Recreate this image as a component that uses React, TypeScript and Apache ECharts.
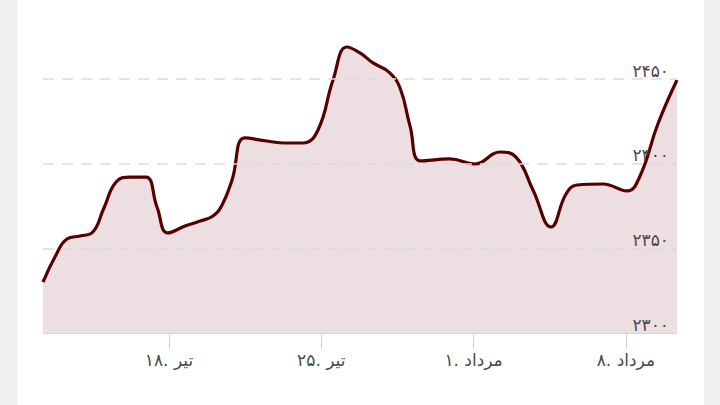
import React, { useEffect, useRef } from "react";
import * as echarts from "echarts";

// day index: Tir d -> d, Mordad d -> 31 + d
const days: number[] = [12.21, 12.76, 13.31, 13.91, 14.46, 15.01, 15.57, 16.25, 16.94, 17.45, 17.95, 18.74, 19.43, 20.02, 20.44, 20.9, 21.49, 22.5, 23.33, 24.16, 24.85, 25.54, 26.18, 26.78, 27.38, 28.11, 28.62, 29.08, 29.58, 30.91, 32.06, 33.21, 33.95, 34.73, 35.56, 36.25, 36.75, 37.95, 39.05, 39.65, 40.47, 41.35];
const prices: number[] = [2330.1, 2344.9, 2355.5, 2357.3, 2359.1, 2373.8, 2389.2, 2392.1, 2392.1, 2374.4, 2359.1, 2363.2, 2366.1, 2369.1, 2375.6, 2390.4, 2415.2, 2413.4, 2412.2, 2412.2, 2419.9, 2449.4, 2468.9, 2465.4, 2459.5, 2454.1, 2444.7, 2422.2, 2401.6, 2402.8, 2399.8, 2406.9, 2403.9, 2384.5, 2362.6, 2382.1, 2387.4, 2388.0, 2383.9, 2392.7, 2423.4, 2449.4];
const tickDays: number[] = [18, 25, 32, 39];
const yTicks: number[] = [2300, 2350, 2400, 2450];

const faDigits = "۰۱۲۳۴۵۶۷۸۹";
const toFa = (n: number) => String(n).replace(/[0-9]/g, (d) => faDigits[Number(d)]);
const dayLabel = (d: number) => {
  const month = d > 31 ? "مرداد" : "تیر";
  const dd = d > 31 ? d - 31 : d;
  return toFa(dd) + ". " + month;
};

export default function App() {
  const ref = useRef<HTMLDivElement>(null);
  useEffect(() => {
    if (!ref.current) return;
    const chart = echarts.init(ref.current, null, { renderer: "svg" });
    chart.setOption({
      animation: false,
      backgroundColor: "#ffffff",
      grid: { left: 43, right: 43, top: 28.2, bottom: 72 },
      graphic: [
        { type: "rect", left: 0, top: 0, shape: { width: 17, height: 405 }, style: { fill: "#efefef" }, z: 100 },
        { type: "rect", left: 17, top: 0, shape: { width: 1, height: 405 }, style: { fill: "#f6f6f6" }, z: 100 },
        { type: "rect", left: 704, top: 0, shape: { width: 16, height: 405 }, style: { fill: "#efefef" }, z: 100 },
      ],
      xAxis: {
        type: "value",
        min: 12.21,
        max: 41.35,
        z: 5,
        splitLine: { show: false },
        axisLine: { show: true, lineStyle: { color: "#ccd6eb", width: 1 } },
        axisTick: { show: true, customValues: tickDays, length: 16, lineStyle: { color: "#ccd6eb" } },
        axisLabel: {
          customValues: tickDays,
          formatter: (v: number) => dayLabel(Math.round(v)),
          color: "#4a4a4a",
          fontSize: 17,
          margin: 18,
          fontFamily: "DejaVu Sans",
        },
      },
      yAxis: {
        type: "value",
        position: "right",
        min: 2300,
        max: 2480,
        interval: 50,
        z: 5,
        axisLine: { show: false },
        axisTick: { show: false },
        splitLine: {
          show: true,
          showMinLine: false,
          showMaxLine: false,
          lineStyle: { color: "#dcdcdc", type: [11, 8], width: 1.5 },
        },
        axisLabel: {
          inside: true,
          showMaxLabel: false,
          margin: 8,
          verticalAlign: "bottom",
          color: "#4a4a4a",
          fontSize: 17,
          fontFamily: "DejaVu Sans",
          formatter: (v: number) => (yTicks.includes(v) ? toFa(v) : ""),
        },
      },
      series: [
        {
          type: "line",
          z: 2,
          data: days.map((d, i) => [d, prices[i]]),
          smooth: 0.45,
          showSymbol: false,
          lineStyle: { color: "#560000", width: 3.2 },
          areaStyle: { color: "#ecdee1", opacity: 1 },
        },
      ],
    });
    return () => chart.dispose();
  }, []);
  return <div ref={ref} style={{ width: 720, height: 405, position: "fixed", left: 0, top: 0 }} />;
}
